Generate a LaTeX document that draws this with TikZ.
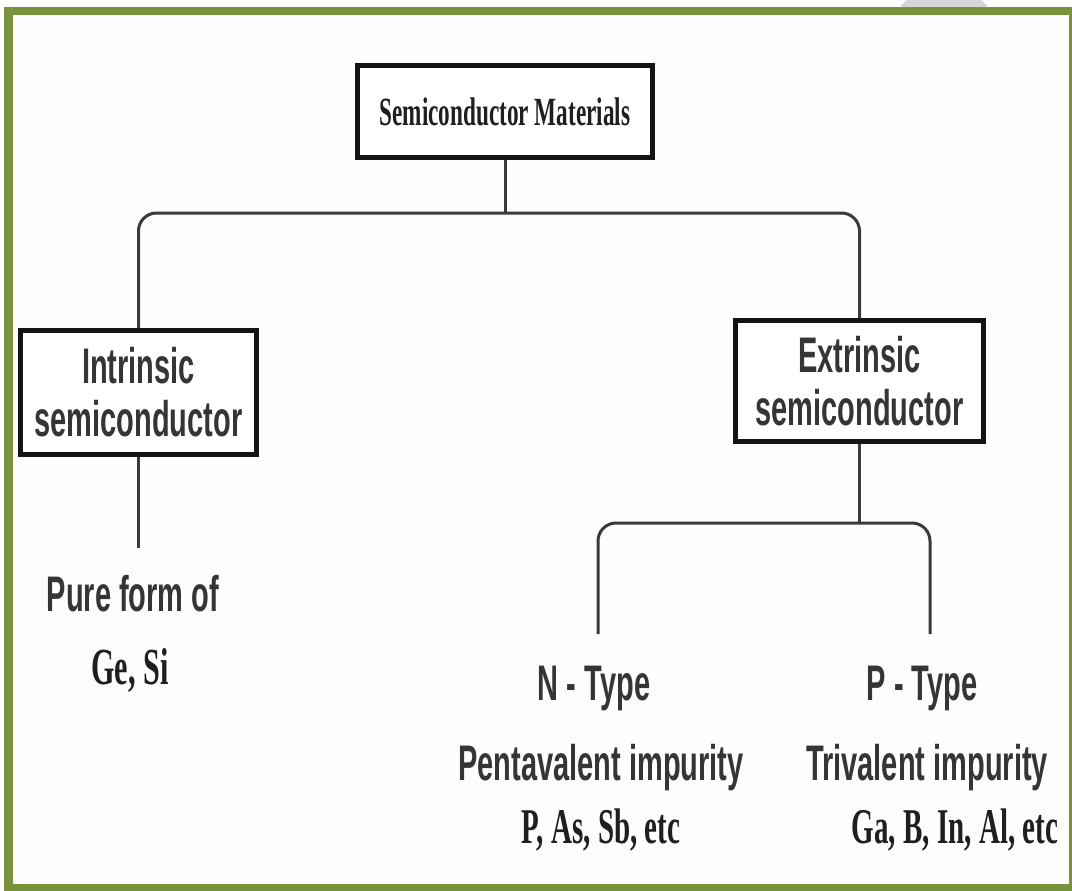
\documentclass[tikz,border=0pt]{standalone}
\usepackage{fontspec}
% condensed faces for the labels
\newfontfamily\labelsans[FakeStretch=0.58]{Liberation Sans}
\newfontfamily\labelserif[FakeStretch=0.58]{Liberation Serif}
\definecolor{frameGreen}{HTML}{78933B}
\definecolor{pageWhite}{HTML}{FDFDFD}
\definecolor{ink}{HTML}{353535}
\definecolor{lineInk}{HTML}{3A3A3A}
\begin{document}
\begin{tikzpicture}[x=1pt,y=-1pt,
  catbox/.style={draw=black!92, line width=5pt, fill=white, inner sep=0pt, align=center},
  conn/.style={draw=lineInk, line width=3pt},
  sanslabel/.style={text=ink, inner sep=0pt, anchor=base,
    font=\labelsans\bfseries\fontsize{50}{53}\selectfont},
  seriflabel/.style={text=black!88, inner sep=0pt, anchor=base,
    font=\labelserif\bfseries\fontsize{50}{54}\selectfont}]
\useasboundingbox (0,0) rectangle (1072,891);

% page, tab behind the frame, green frame and inner panel
\fill[white] (0,0) rectangle (1072,891);
\fill[black!16] (944,38.6) circle (54);
\fill[frameGreen] (4,7) rectangle (1080,895);
\fill[pageWhite] (13,15) rectangle (1069,884);

% category boxes
\node[catbox, minimum width=295pt, minimum height=91pt,
  font=\labelserif\bfseries\fontsize{40}{44}\selectfont, text=black!88]
  (title) at (505,111.5) {Semiconductor Materials};
\node[catbox, minimum width=236pt, minimum height=124pt, text=ink,
  font=\labelsans\bfseries\fontsize{50}{53}\selectfont]
  (intr) at (138.5,392.5) {Intrinsic\\semiconductor};
\node[catbox, minimum width=248pt, minimum height=121pt, text=ink,
  font=\labelsans\bfseries\fontsize{50}{53}\selectfont]
  (extr) at (859.5,381) {Extrinsic\\semiconductor};

% descriptive labels
\node[sanslabel] (pure) at (133,611) {Pure form of};
\node[seriflabel, font=\labelserif\bfseries\fontsize{52}{54}\selectfont] (gesi) at (130,684) {Ge, Si};
\node[sanslabel] (ntype) at (594,700) {N - Type};
\node[sanslabel] (ptype) at (922,700) {P - Type};
\node[sanslabel] (penta) at (601,780) {Pentavalent impurity};
\node[sanslabel] (tri) at (927,780) {Trivalent impurity};
\node[seriflabel] (nlist) at (601,843) {P, As, Sb, etc};
\node[seriflabel] (plist) at (955,843) {Ga, B, In, Al, etc};

% branch levels and free line ends
\coordinate (topBar) at (0,213);
\coordinate (subBar) at (0,523);
\coordinate (pureEnd) at (137,548);
\coordinate (nEnd) at (598,634);
\coordinate (pEnd) at (930,634);

% connectors
\draw[conn] (title.south) -- (title.south |- topBar);
\draw[conn, rounded corners=18pt] (intr.north) -- (intr.north |- topBar)
  -- (extr.north |- topBar) -- (extr.north);
\draw[conn] (intr.south) -- (intr.south |- pureEnd);
\draw[conn] (extr.south) -- (extr.south |- subBar);
\draw[conn, rounded corners=18pt] (nEnd) -- (nEnd |- subBar)
  -- (pEnd |- subBar) -- (pEnd);
\end{tikzpicture}
\end{document}
